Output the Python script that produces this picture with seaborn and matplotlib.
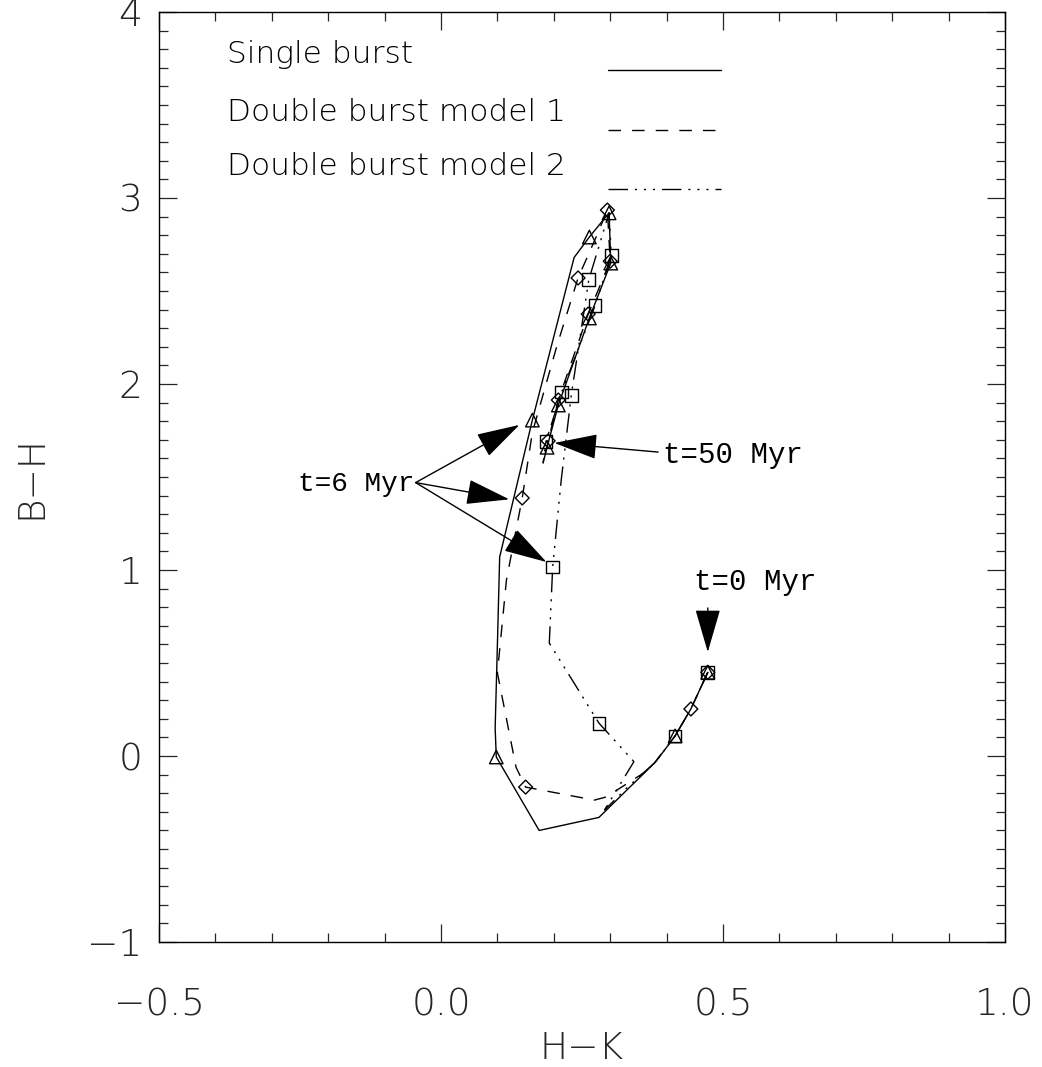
import matplotlib
import matplotlib.pyplot as plt
import seaborn as sns
from matplotlib.ticker import MultipleLocator

matplotlib.use("Agg")

# Single burst track (solid line, triangles)
SB_HK = [0.473, 0.443, 0.415, 0.381, 0.280, 0.174, 0.098, 0.096, 0.100, 0.104,
         0.130, 0.162, 0.236, 0.263, 0.298, 0.301, 0.263, 0.208, 0.188, 0.181]
SB_BH = [0.45, 0.253, 0.108, -0.03, -0.33, -0.40, -0.005, 0.15, 0.60, 1.07,
         1.40, 1.806, 2.68, 2.79, 2.92, 2.65, 2.355, 1.887, 1.66, 1.575]
SB_MARK_HK = [0.473, 0.415, 0.098, 0.162, 0.263, 0.298, 0.301, 0.263, 0.208, 0.188]
SB_MARK_BH = [0.45, 0.108, -0.005, 1.806, 2.79, 2.92, 2.65, 2.355, 1.887, 1.66]

# Double burst model 1 (dashed line, diamonds)
M1_HK = [0.473, 0.443, 0.415, 0.370, 0.293, 0.272, 0.150, 0.133, 0.100, 0.116,
         0.144, 0.162, 0.205, 0.243, 0.275, 0.295, 0.300, 0.261, 0.208, 0.190, 0.181]
M1_BH = [0.45, 0.253, 0.108, -0.07, -0.22, -0.237, -0.167, -0.06, 0.446, 0.946,
         1.387, 1.74, 2.20, 2.57, 2.79, 2.935, 2.66, 2.376, 1.914, 1.694, 1.575]
M1_MARK_HK = [0.473, 0.443, 0.150, 0.144, 0.243, 0.295, 0.300, 0.261, 0.208, 0.190]
M1_MARK_BH = [0.45, 0.253, -0.167, 1.387, 2.57, 2.935, 2.66, 2.376, 1.914, 1.694]

# Double burst model 2 (dash-dot-dot line, squares)
M2_HK = [0.473, 0.443, 0.415, 0.381, 0.330, 0.290, 0.342, 0.280, 0.192, 0.198,
         0.213, 0.231, 0.262, 0.298, 0.302, 0.273, 0.214, 0.186, 0.181]
M2_BH = [0.45, 0.253, 0.108, -0.03, -0.17, -0.29, -0.03, 0.177, 0.607, 1.016,
         1.48, 1.94, 2.56, 2.92, 2.69, 2.42, 1.957, 1.69, 1.575]
M2_MARK_HK = [0.473, 0.415, 0.280, 0.198, 0.231, 0.262, 0.302, 0.273, 0.214, 0.186]
M2_MARK_BH = [0.45, 0.108, 0.177, 1.016, 1.94, 2.56, 2.69, 2.42, 1.957, 1.69]

LEGEND_LABELS = ["Single burst", "Double burst model 1", "Double burst model 2"]

X_TICKS = [-0.5, 0.0, 0.5, 1.0]
X_TICKLABELS = ["\u22120.5", "0.0", "0.5", "1.0"]
Y_TICKS = [-1, 0, 1, 2, 3, 4]
Y_TICKLABELS = ["\u22121", "0", "1", "2", "3", "4"]

DASHED = (0, (9, 8))
DASHDOTDOT = (0, (14, 5, 1.5, 5, 1.5, 5, 1.5, 5))
LINESTYLES = ["-", DASHED, DASHDOTDOT]

sns.set_style("ticks")
plt.rcParams.update({
    "font.family": ["DejaVu Sans"],
    "font.weight": "light",
    "text.color": "black",
    "xtick.direction": "in",
    "ytick.direction": "in",
    "xtick.top": True,
    "ytick.right": True,
    "xtick.major.size": 13,
    "ytick.major.size": 13,
    "xtick.minor.size": 6.5,
    "ytick.minor.size": 6.5,
    "xtick.major.width": 0.9,
    "ytick.major.width": 0.9,
    "xtick.minor.width": 0.9,
    "ytick.minor.width": 0.9,
    "axes.linewidth": 1.0,
    "axes.edgecolor": "black",
})

fig = plt.figure(figsize=(10.42, 10.67), dpi=100)
fig.patch.set_facecolor("white")
ax = fig.add_axes([0.1526, 0.1171, 0.8119, 0.8717])

tracks = [(SB_HK, SB_BH), (M1_HK, M1_BH), (M2_HK, M2_BH)]
for (hk, bh), ls in zip(tracks, LINESTYLES):
    sns.lineplot(x=hk, y=bh, sort=False, estimator=None, color="black",
                 linewidth=1.0, linestyle=ls, ax=ax)

marks = [(SB_MARK_HK, SB_MARK_BH, "^", 95),
         (M1_MARK_HK, M1_MARK_BH, "D", 50),
         (M2_MARK_HK, M2_MARK_BH, "s", 85)]
for hk, bh, mk, size in marks:
    sns.scatterplot(x=hk, y=bh, marker=mk, s=size, color="black",
                    facecolor="none", edgecolor="black", linewidth=1.0, ax=ax, zorder=3)

# legend drawn as text + sample lines, like the original
leg_text_y = [3.769, 3.462, 3.167]
leg_line_y = [3.688, 3.366, 3.048]
for lab, ty, ly, ls in zip(LEGEND_LABELS, leg_text_y, leg_line_y, LINESTYLES):
    ax.text(-0.38, ty, lab, fontsize=22.5, fontweight="light", va="center", ha="left")
    ax.plot([0.296, 0.496], [ly, ly], color="black", linewidth=1.0, linestyle=ls)

mono = "Liberation Mono"
arrow = dict(arrowstyle="-|>,head_length=0.55,head_width=0.16", color="black",
             lw=1.0, mutation_scale=50, shrinkA=0, shrinkB=0)

ax.text(-0.048, 1.462, "t=6 Myr", fontsize=20, family=mono, ha="right", va="center")
for tip in [(0.139, 1.78), (0.121, 1.38), (0.187, 1.043)]:
    ax.annotate("", xy=tip, xytext=(-0.045, 1.47), arrowprops=arrow)

ax.text(0.394, 1.618, "t=50 Myr", fontsize=21, family=mono, ha="left", va="center")
ax.annotate("", xy=(0.201, 1.683), xytext=(0.385, 1.634), arrowprops=arrow)

ax.text(0.557, 0.935, "t=0 Myr", fontsize=21, family=mono, ha="center", va="center")
ax.annotate("", xy=(0.473, 0.559), xytext=(0.473, 0.796), arrowprops=arrow)

ax.set_xlim(-0.5, 1.0)
ax.set_ylim(-1, 4)
ax.set_xticks(X_TICKS)
ax.set_xticklabels(X_TICKLABELS)
ax.set_yticks(Y_TICKS)
ax.set_yticklabels(Y_TICKLABELS)
ax.xaxis.set_minor_locator(MultipleLocator(0.1))
ax.yaxis.set_minor_locator(MultipleLocator(0.1))
ax.tick_params(axis="x", which="major", labelsize=27, pad=33)
ax.tick_params(axis="y", which="major", labelsize=27, pad=12)
for lab in ax.get_xticklabels() + ax.get_yticklabels():
    lab.set_fontweight("light")

ax.set_xlabel("H\u2212K", fontsize=27, fontweight="light", labelpad=6)
ax.set_ylabel("B\u2212H", fontsize=27, fontweight="light", labelpad=28)

for side in ["top", "right", "left", "bottom"]:
    ax.spines[side].set_visible(True)

fig.savefig("out.png", dpi=100, facecolor="white")
plt.close(fig)
